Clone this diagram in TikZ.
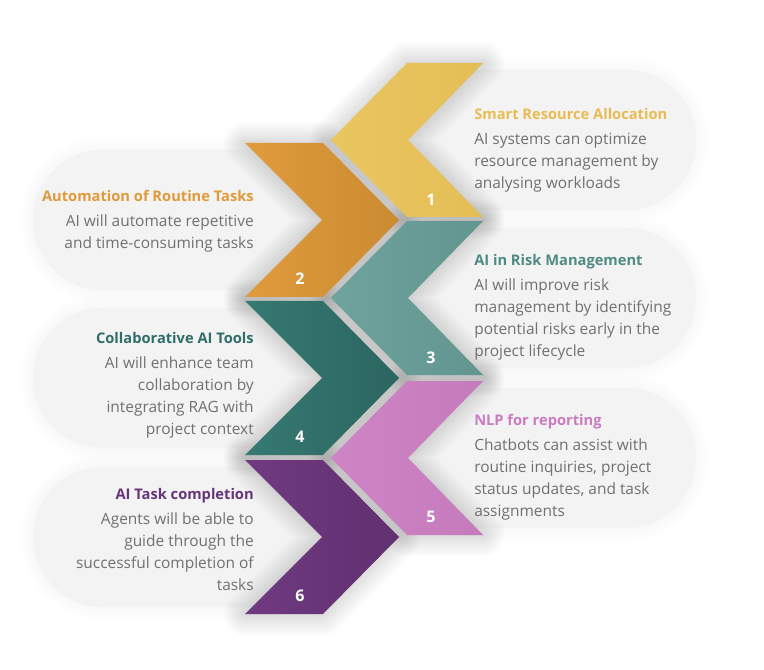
\documentclass[tikz,border=0pt]{standalone}
\usepackage{fontspec}
\setmainfont{Open Sans}
\usepackage{tikz}

\definecolor{pillgray}{HTML}{F3F3F3}
\definecolor{bodygray}{HTML}{707070}
\definecolor{sunA}{HTML}{EAC661}
\definecolor{sunB}{HTML}{E4BD55}
\definecolor{sunT}{HTML}{E8BC52}
\definecolor{amberA}{HTML}{E09B3C}
\definecolor{amberB}{HTML}{CB8B31}
\definecolor{amberT}{HTML}{E09A38}
\definecolor{sageA}{HTML}{6FA39D}
\definecolor{sageB}{HTML}{62958F}
\definecolor{sageT}{HTML}{4F8B85}
\definecolor{pineA}{HTML}{367A73}
\definecolor{pineB}{HTML}{2C655F}
\definecolor{pineT}{HTML}{2F6E69}
\definecolor{orchidA}{HTML}{CF84C5}
\definecolor{orchidB}{HTML}{C57ABC}
\definecolor{orchidT}{HTML}{C97CC0}
\definecolor{plumA}{HTML}{703A80}
\definecolor{plumB}{HTML}{603070}
\definecolor{plumT}{HTML}{66347A}

\newcommand{\leftchev}[1]{(331,#1) -- (407,#1-77) -- (483,#1-77) -- (408,#1) -- (483,#1+77) -- (407,#1+77) -- cycle}
\newcommand{\rightchev}[1]{(245,#1-77) -- (323,#1-77) -- (399,#1) -- (323,#1+77) -- (245,#1+77) -- (322,#1) -- cycle}
\newcommand{\headline}[2]{{\color{#1}\bfseries\fontsize{11}{16.5}\selectfont #2}}

\tikzset{
  pill/.style={fill=pillgray, rounded corners=52.5pt},
  glow/.style={draw=black, line join=round, draw opacity=0.012},
  pillglow/.style={draw=black, rounded corners=52.5pt, draw opacity=0.005},
  blurb/.style={font=\fontsize{11.6}{16.5}\selectfont, text=bodygray, inner sep=0pt},
  stepno/.style={font=\fontsize{12}{14}\selectfont\bfseries, text=white, inner sep=0pt}
}

\begin{document}
\begin{tikzpicture}[x=0.75pt, y=-0.75pt]
  \useasboundingbox[fill=white] (0,0) rectangle (764,670);

  % capsules behind the texts
  \foreach \c in {140,298,458} {
    \foreach \w in {2,5,...,20}
      \draw[pillglow, line width=\w pt] (385,\c-70) rectangle (696,\c+70);
    \fill[pill] (385,\c-70) rectangle (696,\c+70);
  }
  \foreach \c in {220,378,537} {
    \foreach \w in {2,5,...,20}
      \draw[pillglow, line width=\w pt] (33,\c-70) rectangle (325,\c+70);
    \fill[pill] (33,\c-70) rectangle (325,\c+70);
  }

  % soft shadows of the arrows
  \foreach \w in {2,5,...,32} {
    \draw[glow, line width=\w pt] \leftchev{140};
    \draw[glow, line width=\w pt] \leftchev{298};
    \draw[glow, line width=\w pt] \leftchev{458};
    \draw[glow, line width=\w pt] \rightchev{220};
    \draw[glow, line width=\w pt] \rightchev{378};
    \draw[glow, line width=\w pt] \rightchev{537};
  }

  % arrows
  \shade[left color=sunA, right color=sunB] \leftchev{140};
  \shade[left color=amberA, right color=amberB] \rightchev{220};
  \shade[left color=sageA, right color=sageB] \leftchev{298};
  \shade[left color=pineA, right color=pineB] \rightchev{378};
  \shade[left color=orchidA, right color=orchidB] \leftchev{458};
  \shade[left color=plumA, right color=plumB] \rightchev{537};

  % numbers
  \node[stepno] (n1) at (431,200) {1};
  \node[stepno] (n2) at (300,279) {2};
  \node[stepno] (n3) at (431,358) {3};
  \node[stepno] (n4) at (300,437) {4};
  \node[stepno] (n5) at (431,517) {5};
  \node[stepno] (n6) at (300,596) {6};

  % texts
  \node[blurb, align=left, anchor=north west] (t1) at (474,108)
    {\headline{sunT}{Smart Resource Allocation}\\[2.25pt]
     AI systems can optimize\\resource management by\\analysing workloads};
  \node[blurb, align=right, anchor=north east] (t2) at (254,190)
    {\headline{amberT}{Automation of Routine Tasks}\\[2.25pt]
     AI will automate repetitive\\and time-consuming tasks};
  \node[blurb, align=left, anchor=north west] (t3) at (474,254)
    {\headline{sageT}{AI in Risk Management}\\[2.25pt]
     AI will improve risk\\management by identifying\\potential risks early in the\\project lifecycle};
  \node[blurb, align=right, anchor=north east] (t4) at (254,332)
    {\headline{pineT}{Collaborative AI Tools}\\[2.25pt]
     AI will enhance team\\collaboration by\\integrating RAG with\\project context};
  \node[blurb, align=left, anchor=north west] (t5) at (474,414)
    {\headline{orchidT}{NLP for reporting}\\[2.25pt]
     Chatbots can assist with\\routine inquiries, project\\status updates, and task\\assignments};
  \node[blurb, align=right, anchor=north east] (t6) at (254,488)
    {\headline{plumT}{AI Task completion}\\[2.25pt]
     Agents will be able to\\guide through the\\successful completion of\\tasks};
\end{tikzpicture}
\end{document}
